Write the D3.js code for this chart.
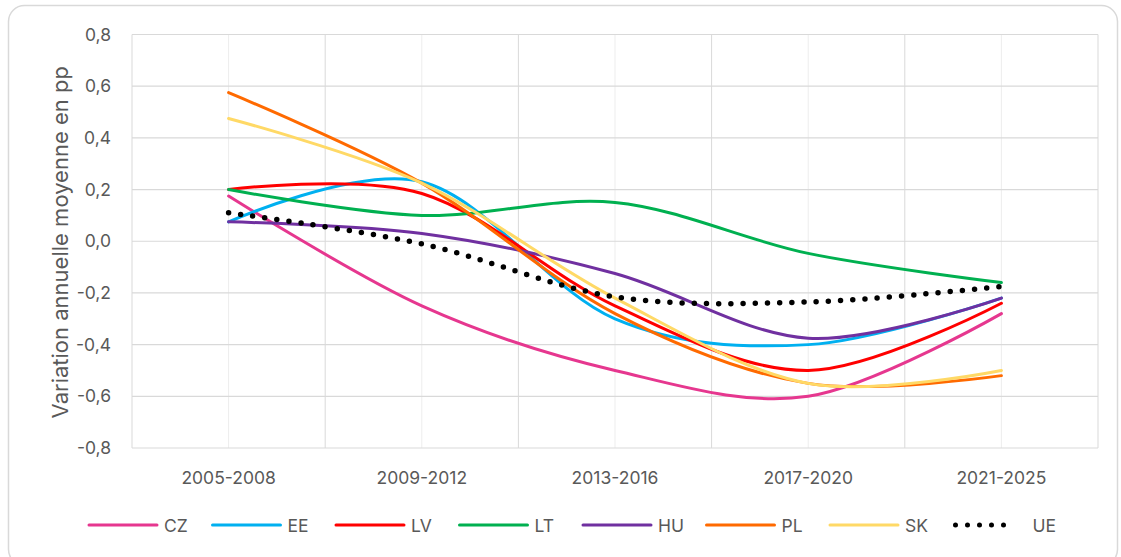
<!DOCTYPE html>
<html>
<head>
<meta charset="utf-8">
<script src="https://cdn.jsdelivr.net/npm/d3@7"></script>
<style>
  body { margin: 0; background: #fff; }
  text { font-family: Inter, "Open Sans", sans-serif; fill: #595959; }
</style>
</head>
<body>
<svg id="chart" width="1121" height="557"></svg>
<script>
// periodes et valeurs (variation annuelle moyenne, pp)
var periodes = ['2005-2008', '2009-2012', '2013-2016', '2017-2020', '2021-2025'];
var yTicks = [-0.8, -0.6, -0.4, -0.2, 0, 0.2, 0.4, 0.6, 0.8];

var CZ = [0.175, -0.25, -0.50, -0.60, -0.28];
var EE = [0.075, 0.23, -0.30, -0.40, -0.22];
var LV = [0.20, 0.185, -0.25, -0.50, -0.24];
var LT = [0.20, 0.10, 0.15, -0.047, -0.16];
var HU = [0.075, 0.03, -0.125, -0.375, -0.22];
var PL = [0.575, 0.225, -0.28, -0.55, -0.52];
var SK = [0.475, 0.225, -0.22, -0.55, -0.50];
var UE = [0.11, -0.01, -0.215, -0.235, -0.175];

var series = [
  { nom: 'CZ', valeurs: CZ, couleur: '#e6378f' },
  { nom: 'EE', valeurs: EE, couleur: '#00b0f0' },
  { nom: 'LV', valeurs: LV, couleur: '#ff0000' },
  { nom: 'LT', valeurs: LT, couleur: '#00b050' },
  { nom: 'HU', valeurs: HU, couleur: '#7030a0' },
  { nom: 'PL', valeurs: PL, couleur: '#ff6a00' },
  { nom: 'SK', valeurs: SK, couleur: '#ffd966' },
  { nom: 'UE', valeurs: UE, couleur: '#000000', pointille: true }
];

var POLICE = 'Inter, "Open Sans", sans-serif';
var svg = d3.select('#chart');

// cadre arrondi
svg.append('rect')
  .attr('x', 8.5).attr('y', 5.5)
  .attr('width', 1109).attr('height', 560)
  .attr('rx', 16)
  .attr('fill', 'none')
  .attr('stroke', '#d9d9d9')
  .attr('stroke-width', 1.5);

var gauche = 132, droite = 1098, haut = 34.5, bas = 448;

var x = d3.scaleBand().domain(periodes).range([gauche, droite]);
var y = d3.scaleLinear().domain([-0.8, 0.8]).range([bas, haut]);
var cx = function(d){ return x(d) + x.bandwidth() / 2; };

var fmt = function(v){ return d3.format('.1f')(v).replace('.', ',').replace('−', '-'); };

// grille verticale : centres (clair) puis limites (plus fonce)
svg.append('g').selectAll('line').data(periodes).enter().append('line')
  .attr('x1', function(d){ return cx(d); })
  .attr('x2', function(d){ return cx(d); })
  .attr('y1', haut).attr('y2', bas)
  .attr('stroke', '#ededed').attr('stroke-width', 1);

var limites = periodes.map(function(d){ return x(d); }).concat([droite]);
svg.append('g').selectAll('line').data(limites).enter().append('line')
  .attr('x1', function(d){ return d; })
  .attr('x2', function(d){ return d; })
  .attr('y1', haut).attr('y2', bas)
  .attr('stroke', '#d9d9d9').attr('stroke-width', 1);

// grille horizontale
svg.append('g').selectAll('line').data(yTicks).enter().append('line')
  .attr('x1', gauche).attr('x2', droite)
  .attr('y1', function(d){ return y(d); })
  .attr('y2', function(d){ return y(d); })
  .attr('stroke', '#d9d9d9').attr('stroke-width', 1.2);

// axe Y
var axeY = svg.append('g')
  .attr('transform', 'translate(' + gauche + ',0)')
  .call(d3.axisLeft(y).tickValues(yTicks).tickSize(0).tickPadding(21).tickFormat(fmt));
axeY.select('.domain').remove();
axeY.selectAll('text').attr('font-size', 17.5).style('font-family', POLICE).attr('fill', '#595959');

// axe X
var axeX = svg.append('g')
  .attr('transform', 'translate(0,' + bas + ')')
  .call(d3.axisBottom(x).tickSize(0).tickPadding(24));
axeX.select('.domain').remove();
axeX.selectAll('text').attr('font-size', 17.5).style('font-family', POLICE).attr('fill', '#595959');

// titre axe Y
svg.append('text')
  .attr('transform', 'translate(68,' + (y(0) + 1) + ') rotate(-90)')
  .attr('text-anchor', 'middle')
  .attr('font-size', 22)
  .text('Variation annuelle moyenne en pp');

// courbes lissees
var ligne = d3.line()
  .x(function(d, i){ return cx(periodes[i]); })
  .y(function(d){ return y(d); })
  .curve(d3.curveCardinal.tension(0));

series.forEach(function(s){
  var p = svg.append('path')
    .attr('d', ligne(s.valeurs))
    .attr('fill', 'none')
    .attr('stroke', s.couleur);
  if (s.pointille) {
    p.attr('stroke-width', 5.5)
      .attr('stroke-linecap', 'round')
      .attr('stroke-dasharray', '0 12.2');
  } else {
    p.attr('stroke-width', 3)
      .attr('stroke-linecap', 'round');
  }
});

// legende
var legende = svg.append('g').attr('transform', 'translate(0,525)');
legende.selectAll('g').data(series).enter().append('g')
  .each(function(d, i){
    var g = d3.select(this);
    var x0 = 89 + i * 123.5;
    var l = g.append('line')
      .attr('x1', x0).attr('x2', x0 + 68)
      .attr('y1', 0).attr('y2', 0)
      .attr('stroke', d.couleur);
    if (d.pointille) {
      l.attr('x1', x0 + 2).attr('x2', x0 + 62)
        .attr('stroke-width', 5).attr('stroke-linecap', 'round').attr('stroke-dasharray', '0 12');
    } else {
      l.attr('stroke-width', 3).attr('stroke-linecap', 'round');
    }
    g.append('text')
      .attr('x', x0 + 75 + (d.pointille ? 4 : 0))
      .attr('y', 6.5)
      .attr('font-size', 17.5)
      .text(d.nom);
  });
</script>
</body>
</html>
